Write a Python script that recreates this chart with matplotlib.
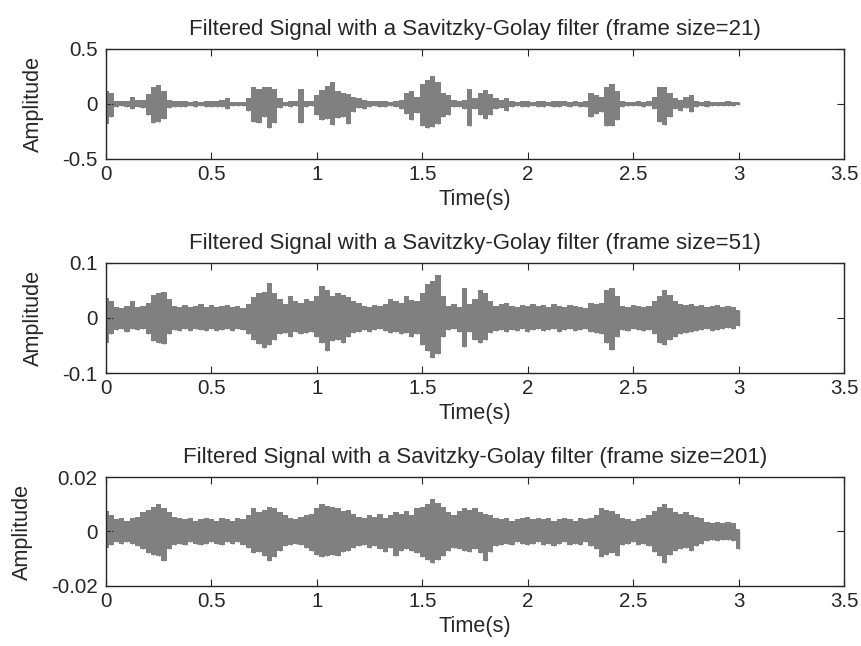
import numpy as np
import matplotlib
matplotlib.use("Agg")
import matplotlib.pyplot as plt

plt.rcParams['font.family'] = ['Liberation Sans', 'DejaVu Sans']

# Time axis of the envelope samples (seconds), one sample every 25 ms
t_start, t_step, n_samples = 0.0, 0.025, 121

# Frame size 21: local maxima / minima of the filtered signal
sg21_hi = [0.12, 0.10, 0.03, 0.025, 0.03, 0.06, 0.035, 0.04, 0.09, 0.15,
           0.17, 0.12, 0.04, 0.03, 0.025, 0.03, 0.02, 0.025, 0.02, 0.03,
           0.025, 0.03, 0.04, 0.05, 0.02, 0.015, 0.02, 0.05, 0.15, 0.14,
           0.15, 0.15, 0.14, 0.05, 0.02, 0.025, 0.03, 0.14, 0.03, 0.025,
           0.08, 0.13, 0.16, 0.20, 0.12, 0.10, 0.09, 0.06, 0.05, 0.04,
           0.03, 0.025, 0.03, 0.025, 0.02, 0.03, 0.04, 0.10, 0.12, 0.06,
           0.18, 0.22, 0.25, 0.20, 0.10, 0.08, 0.04, 0.03, 0.04, 0.14,
           0.05, 0.10, 0.13, 0.09, 0.05, 0.04, 0.05, 0.03, 0.02, 0.025,
           0.03, 0.02, 0.025, 0.03, 0.02, 0.03, 0.025, 0.03, 0.02, 0.025,
           0.02, 0.03, 0.10, 0.08, 0.06, 0.15, 0.18, 0.12, 0.03, 0.02,
           0.015, 0.025, 0.02, 0.03, 0.06, 0.15, 0.15, 0.10, 0.05, 0.04,
           0.06, 0.08, 0.03, 0.02, 0.025, 0.02, 0.015, 0.02, 0.025, 0.02,
           0.015]
sg21_lo = [-0.18, -0.12, -0.03, -0.02, -0.03, -0.05, -0.03, -0.04, -0.10, -0.17,
           -0.16, -0.14, -0.04, -0.03, -0.03, -0.025, -0.02, -0.03, -0.02, -0.025,
           -0.03, -0.025, -0.03, -0.05, -0.02, -0.015, -0.02, -0.06, -0.16, -0.17,
           -0.12, -0.22, -0.17, -0.04, -0.02, -0.025, -0.02, -0.17, -0.03, -0.02,
           -0.10, -0.15, -0.14, -0.19, -0.13, -0.12, -0.18, -0.07, -0.04, -0.05,
           -0.03, -0.02, -0.025, -0.03, -0.02, -0.025, -0.05, -0.09, -0.15, -0.08,
           -0.20, -0.22, -0.21, -0.18, -0.12, -0.10, -0.03, -0.03, -0.05, -0.20,
           -0.05, -0.10, -0.14, -0.10, -0.05, -0.04, -0.06, -0.03, -0.02, -0.03,
           -0.025, -0.02, -0.03, -0.025, -0.02, -0.03, -0.025, -0.02, -0.03, -0.02,
           -0.025, -0.03, -0.12, -0.09, -0.07, -0.20, -0.20, -0.15, -0.03, -0.02,
           -0.015, -0.02, -0.025, -0.02, -0.05, -0.16, -0.19, -0.12, -0.05, -0.06,
           -0.04, -0.07, -0.03, -0.02, -0.025, -0.02, -0.02, -0.015, -0.02, -0.02,
           -0.01]

# Frame size 51
sg51_hi = [0.036, 0.030, 0.020, 0.018, 0.022, 0.030, 0.020, 0.022, 0.028, 0.042,
           0.046, 0.048, 0.035, 0.022, 0.020, 0.024, 0.020, 0.022, 0.026, 0.020,
           0.024, 0.020, 0.022, 0.024, 0.020, 0.022, 0.018, 0.025, 0.038, 0.045,
           0.048, 0.064, 0.045, 0.035, 0.025, 0.040, 0.030, 0.028, 0.035, 0.030,
           0.040, 0.058, 0.050, 0.040, 0.045, 0.042, 0.038, 0.030, 0.028, 0.022,
           0.020, 0.024, 0.022, 0.025, 0.035, 0.030, 0.028, 0.040, 0.032, 0.030,
           0.045, 0.062, 0.068, 0.078, 0.040, 0.022, 0.025, 0.020, 0.054, 0.025,
           0.035, 0.050, 0.045, 0.030, 0.022, 0.025, 0.028, 0.022, 0.020, 0.024,
           0.022, 0.025, 0.022, 0.024, 0.020, 0.025, 0.022, 0.020, 0.024, 0.022,
           0.020, 0.018, 0.028, 0.025, 0.028, 0.050, 0.054, 0.040, 0.022, 0.020,
           0.024, 0.022, 0.020, 0.022, 0.030, 0.040, 0.050, 0.042, 0.030, 0.026,
           0.024, 0.026, 0.022, 0.024, 0.020, 0.022, 0.024, 0.020, 0.022, 0.020,
           0.015]
sg51_lo = [-0.045, -0.030, -0.022, -0.020, -0.025, -0.020, -0.022, -0.020, -0.030, -0.042,
           -0.046, -0.048, -0.030, -0.022, -0.024, -0.020, -0.024, -0.020, -0.022, -0.024,
           -0.020, -0.024, -0.022, -0.020, -0.024, -0.020, -0.022, -0.030, -0.040, -0.048,
           -0.055, -0.050, -0.040, -0.030, -0.028, -0.035, -0.025, -0.030, -0.028, -0.025,
           -0.035, -0.045, -0.060, -0.042, -0.040, -0.045, -0.035, -0.028, -0.025, -0.022,
           -0.025, -0.022, -0.020, -0.024, -0.028, -0.025, -0.030, -0.028, -0.035, -0.030,
           -0.050, -0.060, -0.073, -0.065, -0.035, -0.022, -0.020, -0.025, -0.052, -0.025,
           -0.040, -0.046, -0.040, -0.028, -0.024, -0.022, -0.025, -0.022, -0.024, -0.020,
           -0.025, -0.022, -0.020, -0.024, -0.022, -0.020, -0.025, -0.022, -0.020, -0.024,
           -0.022, -0.020, -0.025, -0.028, -0.030, -0.045, -0.058, -0.035, -0.022, -0.024,
           -0.020, -0.022, -0.024, -0.022, -0.030, -0.045, -0.050, -0.040, -0.035, -0.030,
           -0.028, -0.025, -0.024, -0.022, -0.020, -0.024, -0.022, -0.020, -0.018, -0.020,
           -0.015]

# Frame size 201 (values in units of 1e-3)
sg201_hi = [7.5, 6.0, 4.5, 5.0, 4.0, 5.0, 5.5, 7.0, 8.0, 9.0,
            10.0, 8.5, 7.0, 5.5, 5.0, 4.5, 5.0, 4.0, 4.5, 5.0,
            4.5, 4.0, 5.0, 4.5, 4.0, 5.0, 4.5, 6.0, 8.5, 7.0,
            8.0, 9.0, 8.5, 7.0, 6.0, 5.0, 4.5, 5.5, 6.0, 6.5,
            8.5, 10.0, 9.5, 9.0, 8.5, 7.5, 8.0, 6.5, 5.5, 5.0,
            6.0, 5.5, 6.5, 5.0, 6.0, 7.0, 6.5, 7.5, 6.0, 8.5,
            9.0, 10.0, 12.0, 10.5, 9.0, 7.0, 6.0, 7.5, 8.5, 8.0,
            8.5, 7.0, 6.5, 6.0, 5.0, 4.5, 5.0, 4.0, 4.5, 5.0,
            5.5, 4.5, 5.0, 4.5, 5.0, 4.0, 4.5, 5.0, 4.5, 4.0,
            5.0, 4.5, 5.0, 6.0, 8.5, 8.0, 7.5, 6.5, 5.0, 4.5,
            4.0, 4.5, 5.0, 6.0, 7.5, 9.0, 10.0, 8.5, 7.0, 6.5,
            7.0, 6.0, 5.5, 5.0, 3.5, 3.0, 3.5, 3.0, 3.5, 3.0,
            1.0]
sg201_lo = [-6.0, -5.0, -4.0, -4.5, -4.0, -4.5, -5.5, -6.5, -8.0, -8.5,
            -9.0, -11.0, -6.5, -5.0, -4.5, -5.0, -4.0, -4.5, -5.0, -4.5,
            -4.0, -4.5, -5.0, -4.0, -4.5, -4.0, -5.0, -6.0, -8.0, -7.5,
            -9.0, -10.8, -9.5, -7.0, -5.5, -5.0, -4.5, -5.0, -6.0, -7.0,
            -8.5, -9.5, -9.0, -8.5, -9.0, -7.5, -7.0, -6.0, -5.5, -5.0,
            -6.0, -5.5, -6.5, -7.5, -6.0, -9.0, -7.0, -6.5, -7.0, -8.0,
            -9.5, -10.5, -11.4, -10.5, -9.0, -7.0, -6.0, -6.5, -7.0, -7.5,
            -6.5, -8.0, -10.8, -7.5, -5.5, -5.0, -4.5, -5.0, -4.0, -4.5,
            -5.0, -4.5, -4.0, -5.0, -4.5, -5.5, -4.5, -4.0, -5.0, -4.5,
            -5.0, -4.0, -5.5, -6.5, -9.5, -8.5, -8.0, -9.0, -5.0, -4.5,
            -4.0, -5.0, -4.5, -5.5, -7.5, -9.0, -11.4, -8.5, -7.0, -6.5,
            -6.0, -7.0, -5.5, -4.5, -3.5, -3.0, -3.5, -3.0, -3.0, -3.5,
            -6.5]

frame_sizes = [21, 51, 201]
y_limits = [(-0.5, 0.5), (-0.1, 0.1), (-0.02, 0.02)]
y_ticks = [[-0.5, 0, 0.5], [-0.1, 0, 0.1], [-0.02, 0, 0.02]]
y_ticklabels = [["-0.5", "0", "0.5"], ["-0.1", "0", "0.1"], ["-0.02", "0", "0.02"]]
x_ticks = [0, 0.5, 1, 1.5, 2, 2.5, 3, 3.5]
x_ticklabels = ["0", "0.5", "1", "1.5", "2", "2.5", "3", "3.5"]

series = [
    (np.array(sg21_hi), np.array(sg21_lo)),
    (np.array(sg51_hi), np.array(sg51_lo)),
    (np.array(sg201_hi) * 1e-3, np.array(sg201_lo) * 1e-3),
]

fig = plt.figure(figsize=(8.61, 6.46), dpi=100)
# axes rectangles [left, bottom, width, height]
rects = [
    [0.1231, 0.7539, 0.8572, 0.1703],
    [0.1231, 0.4226, 0.8572, 0.1703],
    [0.1231, 0.0929, 0.8572, 0.1687],
]

ink = '#262626'
wave = '#808080'
t = t_start + t_step * np.arange(n_samples)
for k, rect in enumerate(rects):
    ax = fig.add_axes(rect)
    hi, lo = series[k]
    # filled band between the local minima and maxima of each 25 ms window
    ax.fill_between(t, lo, hi, step='mid', color=wave, lw=0)
    ax.vlines(t, lo, hi, color=wave, lw=1.0)

    ax.set_xlim(0, 3.5)
    ax.set_ylim(*y_limits[k])
    ax.set_xticks(x_ticks)
    ax.set_xticklabels(x_ticklabels)
    ax.set_yticks(y_ticks[k])
    ax.set_yticklabels(y_ticklabels[k])
    ax.tick_params(direction='in', length=5, width=0.8, top=True, right=True,
                   labelsize=14.8, colors=ink)
    ax.tick_params(axis='x', pad=4.5)
    ax.tick_params(axis='y', pad=6)
    for s in ax.spines.values():
        s.set_linewidth(1.0)
        s.set_color(ink)
    ax.set_title(f"Filtered Signal with a Savitzky-Golay filter (frame size={frame_sizes[k]})",
                 fontsize=16, color=ink, pad=10)
    ax.set_xlabel("Time(s)", fontsize=15.6, color=ink, labelpad=3.5)
    ax.set_ylabel("Amplitude", fontsize=15.6, color=ink, labelpad=13)

fig.savefig("out.png", dpi=100)
